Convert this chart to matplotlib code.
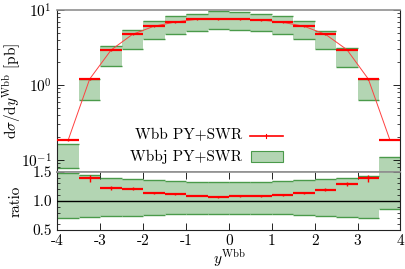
import numpy as np
import matplotlib
matplotlib.use("Agg")
import matplotlib.pyplot as plt
from matplotlib.lines import Line2D
from matplotlib.patches import Rectangle
from matplotlib.ticker import FixedLocator, NullFormatter, LogLocator

plt.rcParams['font.family'] = ['cmr10', 'DejaVu Serif']
plt.rcParams['mathtext.fontset'] = 'cm'
plt.rcParams['axes.unicode_minus'] = False
plt.rcParams['axes.formatter.use_mathtext'] = True
plt.rcParams['font.size'] = 11

# ---------------- data ----------------
bin_edges = [-4.0, -3.5, -3.0, -2.5, -2.0, -1.5, -1.0, -0.5, 0.0,
             0.5, 1.0, 1.5, 2.0, 2.5, 3.0, 3.5, 4.0]
wbb = [0.185, 1.20, 2.93, 4.74, 6.07, 6.92, 7.51, 7.60,
       7.60, 7.36, 6.85, 6.07, 4.74, 2.96, 1.20, 0.187]
wbbj_hi = [0.163, 1.20, 3.31, 5.41, 7.20, 8.33, 8.86, 9.70,
           9.31, 8.86, 8.33, 7.20, 5.29, 3.14, 1.20, 0.109]
wbbj_lo = [0.079, 0.631, 1.79, 2.99, 4.07, 4.74, 5.25, 5.53,
           5.41, 5.25, 4.74, 4.07, 2.99, 1.72, 0.631, 0.05]
ratio = [np.nan, 1.39, 1.224, 1.207, 1.138, 1.116, 1.091, 1.069,
         1.081, 1.086, 1.098, 1.133, 1.19, 1.288, 1.39, np.nan]
ratio_err = [0.0, 0.06, 0.035, 0.025, 0.02, 0.015, 0.015, 0.015,
             0.015, 0.015, 0.015, 0.02, 0.025, 0.035, 0.06, 0.0]
band_hi = [1.478, 1.448, 1.40, 1.374, 1.35, 1.333, 1.322, 1.322,
           1.322, 1.322, 1.333, 1.35, 1.374, 1.40, 1.42, 1.70]
band_lo = [0.70, 0.719, 0.74, 0.74, 0.76, 0.77, 0.77, 0.77,
           0.77, 0.77, 0.77, 0.753, 0.74, 0.72, 0.707, 0.857]
xtick_vals = [-4, -3, -2, -1, 0, 1, 2, 3, 4]
xtick_labels = ["-4", "-3", "-2", "-1", "0", "1", "2", "3", "4"]
rtick_vals = [0.5, 1.0, 1.5]
rtick_labels = ["0.5", "1.0", "1.5"]
labels = ["Wbb PY+SWR", "Wbbj PY+SWR"]

edges = np.array(bin_edges)
xl, xr = edges[:-1], edges[1:]
xc = 0.5 * (xl + xr)
wid = xr - xl
wbb = np.array(wbb)
hi, lo = np.array(wbbj_hi), np.array(wbbj_lo)
bhi, blo = np.array(band_hi), np.array(band_lo)
ratio = np.array(ratio)

RED = '#ff0000'
FILL = '#b3d5b3'
EDGE = '#4a9a4a'

W, H = 406, 269
fig = plt.figure(figsize=(W / 100, H / 100), dpi=100)
L, R = 57.5, 400.5
T1, B1, B2 = 10.0, 171.7, 230.0
ax = fig.add_axes([L / W, 1 - B1 / H, (R - L) / W, (B1 - T1) / H])
axr = fig.add_axes([L / W, 1 - B2 / H, (R - L) / W, (B2 - B1) / H])

# main panel
ax.bar(xc, hi - lo, bottom=lo, width=wid, color=FILL, edgecolor='none', zorder=1)
ax.hlines(hi, xl, xr, color=EDGE, lw=1.0, zorder=2)
ax.hlines(lo, xl, xr, color=EDGE, lw=1.0, zorder=2)
ax.plot(xc, wbb, color='#ff4040', lw=0.7, zorder=3)
ax.hlines(wbb, xl, xr, color=RED, lw=1.6, zorder=4)
ax.errorbar(xc, wbb, yerr=wbb * 0.02, fmt='none', ecolor=RED, elinewidth=1.0, zorder=4)
ax.set_yscale('log')
ax.set_ylim(0.0698, 10)
ax.set_xlim(-4, 4)
ax.yaxis.set_major_locator(LogLocator(base=10, numticks=10))
ax.yaxis.set_minor_locator(LogLocator(base=10, subs=np.arange(2, 10), numticks=20))
ax.yaxis.set_minor_formatter(NullFormatter())
ax.tick_params(axis='y', which='both', direction='in', left=True, right=True)
ax.tick_params(axis='y', which='major', length=5, width=0.6, pad=4)
ax.tick_params(axis='y', which='minor', length=2.5, width=0.5)
ax.tick_params(axis='x', which='both', bottom=False, top=False, labelbottom=False)
ax.set_ylabel(r'$\mathrm{d}\sigma/\mathrm{d}y^{\mathrm{Wbb}}$ [pb]')
ax.yaxis.set_label_coords(-0.102, 0.5)
for s in ['left', 'right', 'bottom']:
    ax.spines[s].set_color('#222222')
    ax.spines[s].set_linewidth(0.8)
ax.spines['top'].set_color('#909090')
ax.spines['top'].set_linewidth(1.2)
ax.spines['bottom'].set_color('#909090')
ax.spines['bottom'].set_linewidth(1.2)

# legend (manual, right-aligned text)
def fx(px):
    return px / W

def fy(py):
    return 1 - py / H

fig.text(fx(242), fy(135.5), labels[0], ha='right', va='center', fontsize=11)
fig.text(fx(242), fy(156.5), labels[1], ha='right', va='center', fontsize=11)
fig.add_artist(Line2D([fx(250), fx(283)], [fy(135.7), fy(135.7)], color=RED, lw=1.2,
                      transform=fig.transFigure))
fig.add_artist(Line2D([fx(266.5), fx(266.5)], [fy(133.5), fy(138)], color=RED, lw=0.8,
                      transform=fig.transFigure))
fig.add_artist(Rectangle((fx(250.5), fy(162.3)), fx(283.3) - fx(250.5), fy(150.7) - fy(162.3),
                         facecolor=FILL, edgecolor=EDGE, lw=0.8, transform=fig.transFigure))

# ratio panel
axr.bar(xc, bhi - blo, bottom=blo, width=wid, color=FILL, edgecolor='none', zorder=1)
axr.hlines(bhi, xl, xr, color=EDGE, lw=1.0, zorder=2)
axr.hlines(blo, xl, xr, color=EDGE, lw=1.0, zorder=2)
axr.axhline(1.0, color='black', lw=1.0, zorder=3)
axr.hlines(ratio, xl, xr, color=RED, lw=1.6, zorder=4)
axr.errorbar(xc, ratio, yerr=ratio_err, fmt='none', ecolor=RED, elinewidth=1.0, zorder=4)
axr.set_xlim(-4, 4)
axr.set_ylim(0.5, 1.5)
axr.set_xticks(xtick_vals, xtick_labels)
axr.set_yticks(rtick_vals, rtick_labels)
axr.yaxis.set_minor_locator(FixedLocator(np.arange(0.6, 1.5, 0.1)))
axr.tick_params(axis='both', which='both', direction='in', left=True, right=True,
                top=True, bottom=True)
axr.tick_params(axis='both', which='major', length=5, width=0.6, pad=4)
axr.tick_params(axis='x', which='major', pad=3)
axr.tick_params(axis='y', which='minor', length=2.5, width=0.5)
axr.tick_params(axis='x', which='minor', top=False, bottom=False)
axr.set_ylabel('ratio')
axr.yaxis.set_label_coords(-0.102, 0.5)
axr.set_xlabel(r'$y^{\mathrm{Wbb}}$', labelpad=0)
for s in ['left', 'right', 'bottom']:
    axr.spines[s].set_color('#222222')
    axr.spines[s].set_linewidth(0.8)
axr.spines['top'].set_color('#909090')
axr.spines['top'].set_linewidth(1.2)

fig.savefig('out.png', dpi=100)
